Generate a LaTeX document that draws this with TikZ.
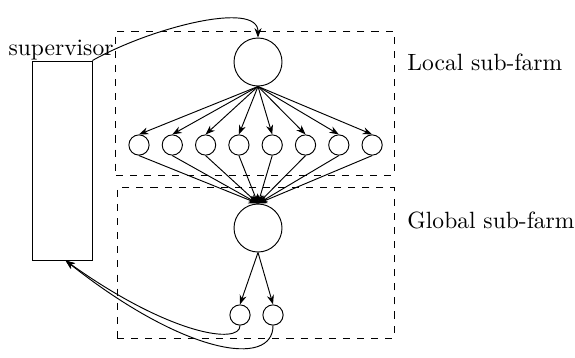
\documentclass[tikz,border=0pt]{standalone}
\usetikzlibrary{arrows.meta,positioning}

\begin{document}
\begin{tikzpicture}[x=0.425pt, y=-0.425pt, every node/.style={font=\normalsize},
		bignode/.style={draw, circle, minimum size=20.4pt, inner sep=0pt},
		smallnode/.style={draw, circle, minimum size=8.6pt, inner sep=0pt},
		farm/.style={draw, dashed, inner sep=0pt},
		arr/.style={-{Stealth[length=4pt,width=3pt]}}]
	\useasboundingbox (0,0) rectangle (575,357);
	% supervisor
	\node[draw, minimum width=25.5pt, minimum height=84.6pt, inner sep=0pt] (sup) at (62,160.5) {};
	\node[anchor=base, inner sep=0pt] (suplabel) at (61,55) {supervisor};
	% sub-farm frames
	\node[farm, minimum width=118.2pt, minimum height=61.2pt] (local) at (255,103) {};
	\node[farm, minimum width=117.7pt, minimum height=63.8pt] (global) at (255.5,263) {};
	\node[anchor=west, inner sep=0pt] (locallabel) at (407,62) {Local sub-farm};
	\node[anchor=west, inner sep=0pt] (globallabel) at (407,220) {Global sub-farm};
	% nodes
	\node[bignode] (top) at (258,62) {};
	\node[bignode] (mid) at (258,228) {};
	\foreach \i in {1,...,8}
		\node[smallnode] (l\i) at ({139+33.3*(\i-1)},145) {};
	\node[smallnode] (g1) at (240,315) {};
	\node[smallnode] (g2) at (273,315) {};
	% connectors
	\foreach \i in {1,...,8} {
		\draw[arr] (top.south) -- (l\i.north);
		\draw[arr] (l\i.south) -- (mid.north);
	}
	\draw[arr] (mid.south) -- (g1.north);
	\draw[arr] (mid.south) -- (g2.north);
	\draw[arr] (sup.north east) .. controls (150,28) and (258,0) .. (top.north);
	\draw[arr] (g1.south) .. controls (240,345) and (170,335) .. ([xshift=1.5pt]sup.south);
	\draw[arr] (g2.south) .. controls (273,368) and (185,355) .. ([xshift=1.5pt]sup.south);
\end{tikzpicture}
\end{document}
